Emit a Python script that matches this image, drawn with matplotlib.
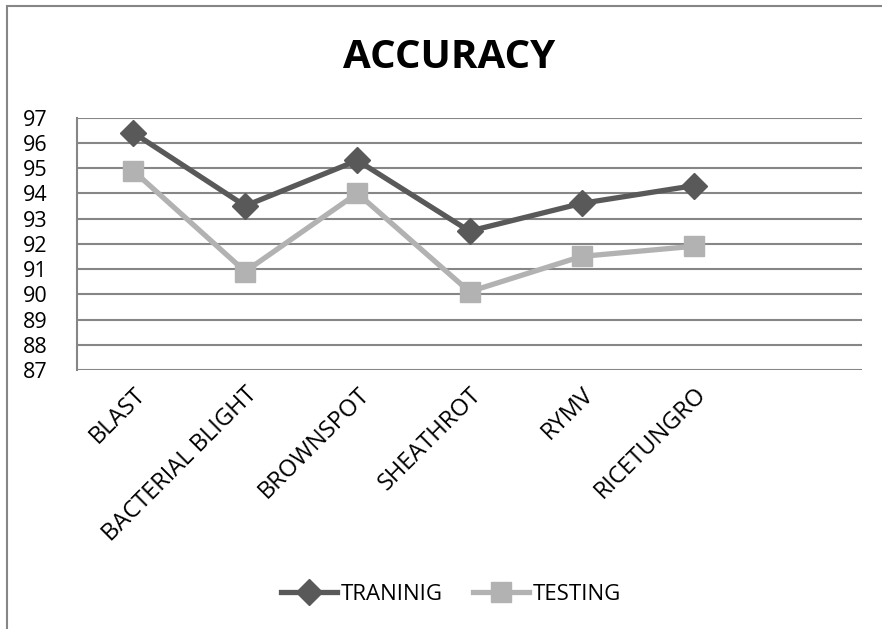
import matplotlib
matplotlib.use('Agg')
import matplotlib.pyplot as plt
from matplotlib.patches import Rectangle

# data
diseases = ['BLAST', 'BACTERIAL BLIGHT', 'BROWNSPOT', 'SHEATHROT', 'RYMV', 'RICETUNGRO']
training = [96.4, 93.5, 95.3, 92.5, 93.6, 94.3]
testing = [94.9, 90.9, 94.0, 90.1, 91.5, 91.9]
yticks = [87, 88, 89, 90, 91, 92, 93, 94, 95, 96, 97]

plt.rcParams['font.family'] = ['Open Sans', 'DejaVu Sans']

fig = plt.figure(figsize=(8.82, 6.29), dpi=100)
ax = fig.add_axes([77/882, 1 - 370/629, 785/882, 252.5/629])

x = list(range(len(diseases)))
ax.plot(x, training, color='#595959', lw=3.8, marker='D', ms=13, label='TRANINIG')
ax.plot(x, testing, color='#b2b2b2', lw=3.8, marker='s', ms=14, label='TESTING')

ax.set_xlim(-0.5, 6.5)
ax.set_ylim(87, 97)
ax.set_yticks(yticks)
ax.set_yticklabels([str(t) for t in yticks], fontsize=15.5)
ax.set_xticks(x)
ax.set_xticklabels(diseases, rotation=45, ha='right', rotation_mode='anchor', fontsize=17)
ax.tick_params(length=0)
ax.tick_params(axis='x', pad=9)
ax.tick_params(axis='y', pad=21)
ax.grid(axis='y', color='#868686', lw=1.5)
ax.set_axisbelow(True)
for s in ['top', 'right', 'bottom']:
    ax.spines[s].set_visible(False)
ax.spines['left'].set_color('#868686')
ax.spines['left'].set_linewidth(1.5)

fig.text(449/882, 1 - 58/629, 'ACCURACY', fontsize=29, fontweight='bold', ha='center', va='center')

leg = fig.legend(loc='center', bbox_to_anchor=(451/882, 1 - 594/629), ncol=2, frameon=False,
                 fontsize=16, handlelength=2.5, columnspacing=1.4, handletextpad=0.15)

# outer chart border (cut off at right and bottom)
fig.add_artist(Rectangle((7/882, -0.5), 1.2, 0.5 + 1 - 6/629, transform=fig.transFigure,
                         fill=False, edgecolor='#868686', lw=1.5))

fig.savefig('out.png', dpi=100)
